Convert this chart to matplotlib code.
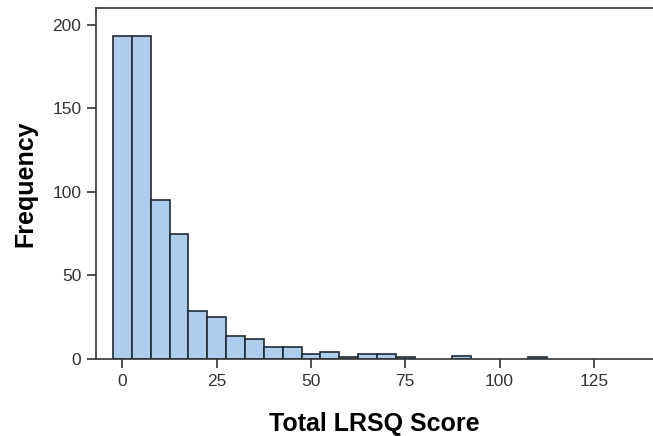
import matplotlib
matplotlib.use("Agg")
import matplotlib.pyplot as plt

# histogram of total LRSQ score, bins of width 5 centred on multiples of 5
bin_centers = [0, 5, 10, 15, 20, 25, 30, 35, 40, 45, 50, 55, 60, 65, 70, 75, 90, 110]
counts = [193, 193, 95, 75, 29, 25, 14, 12, 7, 7, 3, 4, 1, 3, 3, 1, 2, 1]
bin_width = 5

x_ticks = [0, 25, 50, 75, 100, 125]
y_ticks = [0, 50, 100, 150, 200]

plt.rcParams['font.family'] = ['Liberation Sans', 'DejaVu Sans']

fig = plt.figure(figsize=(6.53, 4.36), dpi=100)
ax = fig.add_axes([96 / 653, 77 / 436, 1 - 96 / 653, 351 / 436])

ax.bar(bin_centers, counts, width=bin_width, color='#aecdec',
       edgecolor='#1f2a33', linewidth=1.2, zorder=2)

ax.set_xlim(-7.0, 140.7)
ax.set_ylim(0, 210)
ax.set_xticks(x_ticks)
ax.set_yticks(y_ticks)

for side in ['top', 'left', 'bottom']:
    ax.spines[side].set_color('#333333')
    ax.spines[side].set_linewidth(1.2)
ax.spines['right'].set_visible(False)

ax.tick_params(direction='out', length=6.5, width=1.2, color='#333333',
               labelsize=12.5, labelcolor='#333333', pad=4)

ax.set_xlabel('Total LRSQ Score', fontsize=18, fontweight='bold', labelpad=17)
ax.set_ylabel('Frequency', fontsize=18, fontweight='bold', labelpad=11)

fig.savefig('out.png', dpi=100)
